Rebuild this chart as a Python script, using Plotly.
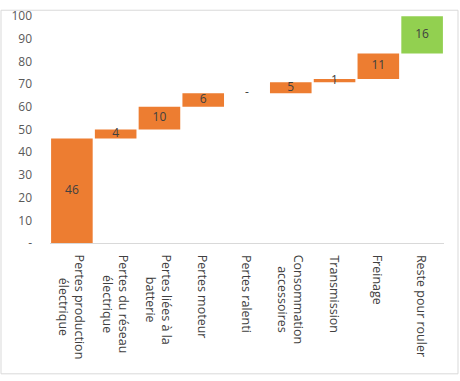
import plotly.graph_objects as go

categories = ["Pertes production électrique", "Pertes du réseau électrique",
              "Pertes liées à la batterie", "Pertes moteur", "Pertes ralenti",
              "Consommation accessoires", "Transmission", "Freinage", "Reste pour rouler"]
tick_labels = ["Pertes production<br>électrique", "Pertes du réseau<br>électrique",
               "Pertes liées à la<br>batterie", "Pertes moteur", "Pertes ralenti",
               "Consommation<br>accessoires", "Transmission", "Freinage", "Reste pour rouler"]
values = [46, 4, 10, 6, 0, 4.8, 1.4, 11.3, 16.4]
colors = ["#ED7D31"] * 8 + ["#92D050"]
y_ticks = [0, 10, 20, 30, 40, 50, 60, 70, 80, 90, 100]
y_tick_text = ["-"] + [str(v) for v in y_ticks[1:]]

bases = []
acc = 0
for v in values:
    bases.append(acc)
    acc += v
mids = [b + v / 2 for b, v in zip(bases, values)]
labels = ["-" if round(v) == 0 else str(int(round(v))) for v in values]

fig = go.Figure()
fig.add_trace(go.Bar(x=categories, y=values, base=bases, marker=dict(color=colors, line=dict(width=0)),
                     hoverinfo="skip"))
fig.add_trace(go.Scatter(x=categories, y=mids, mode="text", text=labels,
                         textfont=dict(color="#404040", size=12, family="Open Sans"),
                         hoverinfo="skip"))

annotations = []
for cat, lab in zip(categories, tick_labels):
    annotations.append(dict(x=cat, xref="x", y=0, yref="paper", yanchor="top", xanchor="center",
                            yshift=-10, text=lab, textangle=90, align="center", showarrow=False,
                            font=dict(family="Open Sans", size=12.5, color="#404040")))

fig.update_layout(
    width=460, height=381,
    margin=dict(l=50, r=16, t=7, b=138),
    plot_bgcolor="white", paper_bgcolor="white",
    showlegend=False, bargap=0.05,
    font=dict(family="Open Sans", size=12, color="#595959"),
    xaxis=dict(showticklabels=False,
               showgrid=False, showline=True, linecolor="#D9D9D9", linewidth=1, ticks=""),
    yaxis=dict(range=[0, 100], tickvals=y_ticks, ticktext=y_tick_text,
               showgrid=False, zeroline=False, showline=False, ticks="",
               ticklabeloverflow="allow",
               ticklabelstandoff=17, tickfont=dict(size=12, color="#595959")),
    annotations=annotations,
    shapes=[dict(type="rect", xref="paper", yref="paper",
                 x0=(1 - 50) / 394, x1=(458 - 50) / 394,
                 y0=(243 - 379) / 236, y1=(243 - 1) / 236,
                 line=dict(color="#D9D9D9", width=1), fillcolor="rgba(0,0,0,0)", layer="below")],
)

fig.write_html("out.html")
